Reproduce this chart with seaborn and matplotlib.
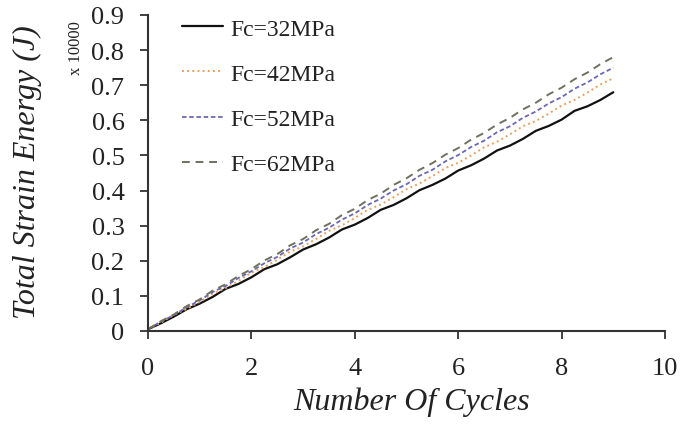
import numpy as np
import pandas as pd
import matplotlib
matplotlib.use("Agg")
import matplotlib.pyplot as plt
import seaborn as sns

cycles = [0, 0.25, 0.5, 0.75, 1, 1.25, 1.5, 1.75, 2, 2.25, 2.5, 2.75, 3, 3.25, 3.5, 3.75,
          4, 4.25, 4.5, 4.75, 5, 5.25, 5.5, 5.75, 6, 6.25, 6.5, 6.75, 7, 7.25, 7.5, 7.75,
          8, 8.25, 8.5, 8.75, 9]
fc32 = [0.005, 0.022, 0.041, 0.062, 0.078, 0.097, 0.120, 0.134, 0.153, 0.176, 0.190, 0.210,
        0.232, 0.247, 0.266, 0.289, 0.303, 0.322, 0.345, 0.359, 0.378, 0.401, 0.416, 0.434,
        0.457, 0.472, 0.491, 0.514, 0.528, 0.547, 0.570, 0.584, 0.602, 0.627, 0.640, 0.658, 0.680]
fc42 = [0.005, 0.024, 0.046, 0.063, 0.083, 0.106, 0.122, 0.143, 0.166, 0.182, 0.203, 0.226,
        0.241, 0.262, 0.285, 0.301, 0.322, 0.345, 0.360, 0.381, 0.404, 0.420, 0.441, 0.464,
        0.479, 0.500, 0.523, 0.539, 0.560, 0.583, 0.598, 0.619, 0.642, 0.658, 0.679, 0.702, 0.720]
fc52 = [0.005, 0.027, 0.045, 0.068, 0.087, 0.111, 0.128, 0.151, 0.170, 0.193, 0.211, 0.235,
        0.252, 0.276, 0.294, 0.317, 0.335, 0.359, 0.377, 0.400, 0.418, 0.442, 0.459, 0.483,
        0.501, 0.524, 0.542, 0.566, 0.583, 0.607, 0.625, 0.648, 0.666, 0.690, 0.708, 0.731, 0.750]
fc62 = [0.005, 0.028, 0.047, 0.071, 0.090, 0.115, 0.133, 0.157, 0.176, 0.201, 0.219, 0.244,
        0.262, 0.287, 0.305, 0.330, 0.348, 0.373, 0.391, 0.416, 0.435, 0.459, 0.478, 0.502,
        0.521, 0.545, 0.564, 0.588, 0.607, 0.631, 0.650, 0.674, 0.693, 0.717, 0.736, 0.760, 0.780]

labels = ["Fc=32MPa", "Fc=42MPa", "Fc=52MPa", "Fc=62MPa"]
series = [fc32, fc42, fc52, fc62]
x_ticks = [0, 2, 4, 6, 8, 10]
y_ticks = [0, 0.1, 0.2, 0.3, 0.4, 0.5, 0.6, 0.7, 0.8, 0.9]
y_ticklabels = ["0", "0.1", "0.2", "0.3", "0.4", "0.5", "0.6", "0.7", "0.8", "0.9"]

colors = ["#111111", "#E8A060", "#6B68B4", "#6E7060"]
styles = ["-", ":", (0, (2.5, 1.5)), (0, (4, 3))]
widths = [1.6, 1.4, 1.3, 1.4]

sns.set_style("white")
plt.rcParams['font.family'] = ['Liberation Serif', 'DejaVu Serif']

fig = plt.figure(figsize=(6.81, 4.27), dpi=100)
ax = fig.add_axes([148 / 681, 1 - 332 / 427, 517 / 681, 316 / 427])

for lab, ys, c, ls, lw in zip(labels, series, colors, styles, widths):
    df = pd.DataFrame({"x": cycles, "y": ys})
    sns.lineplot(data=df, x="x", y="y", ax=ax, color=c, linestyle=ls, linewidth=lw, label=lab)

ax.set_xlim(0, 10)
ax.set_ylim(0, 0.9)
ax.set_xticks(x_ticks)
ax.set_yticks(y_ticks)
ax.set_yticklabels(y_ticklabels)
ax.tick_params(axis="both", labelsize=19, direction="out", length=6, width=1.3,
               colors="#333333", labelcolor="#222222", left=True, bottom=True)
ax.tick_params(axis="y", pad=11)
ax.tick_params(axis="x", pad=13)
for s in ["top", "right"]:
    ax.spines[s].set_visible(False)
for s in ["left", "bottom"]:
    ax.spines[s].set_color("#333333")
    ax.spines[s].set_linewidth(1.5)

ax.set_xlabel("Number Of Cycles", fontsize=23, style="italic", color="#222222")
ax.set_ylabel("Total Strain Energy (J)", fontsize=23, style="italic", color="#222222")
ax.xaxis.set_label_coords(0.509, -0.177)
ax.yaxis.set_label_coords(-0.205, 0.506)
fig.text(76 / 681, 1 - 48 / 427, "x 10000", rotation=90, fontsize=12, ha="center", va="center",
         color="#222222")

leg = ax.legend(loc="upper left", bbox_to_anchor=(182 / 681, 1 - 19 / 427),
                bbox_transform=fig.transFigure, frameon=False, fontsize=17,
                handlelength=1.74, handletextpad=0.3, labelspacing=1.0,
                borderpad=0, borderaxespad=0)
for t in leg.get_texts():
    t.set_color("#222222")

fig.savefig("out.png", dpi=100)
